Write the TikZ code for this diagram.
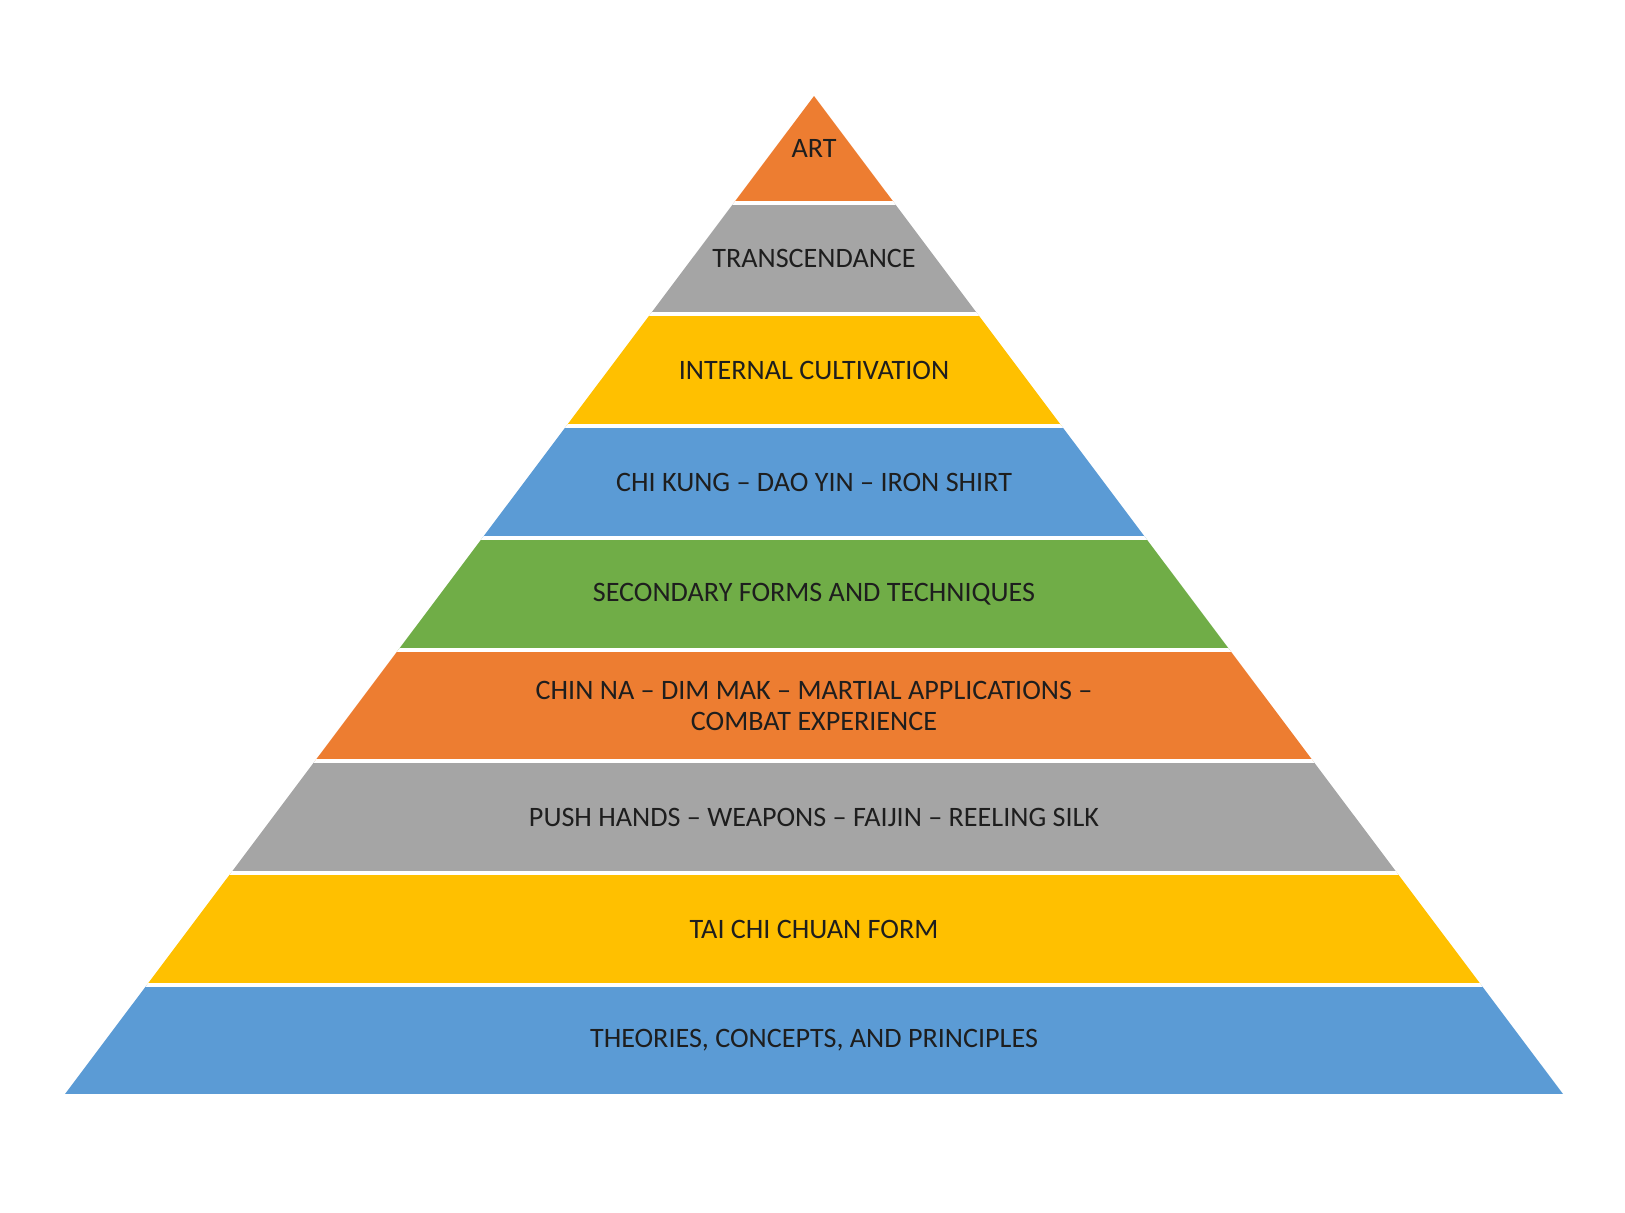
\documentclass[tikz,border=0pt]{standalone}
\usepackage{fontspec}
\setmainfont{Carlito}
\definecolor{tierorange}{HTML}{ED7D31}
\definecolor{tiergray}{HTML}{A5A5A5}
\definecolor{tieryellow}{HTML}{FFC000}
\definecolor{tierblue}{HTML}{5B9BD5}
\definecolor{tiergreen}{HTML}{70AD47}
\definecolor{tiertext}{HTML}{1E1E1E}
\begin{document}
\begin{tikzpicture}[x=0.01cm,y=-0.01cm]
\tikzstyle{label}=[text=tiertext,align=center,font=\fontsize{8}{8.8}\selectfont,inner sep=0pt]
\tikzstyle{gap}=[draw=white,line width=0.035cm]

\useasboundingbox (0,0) rectangle (1625,1212);

% corners of the pyramid
\coordinate (apex) at (814,96);
\coordinate (bl) at (65,1094);
\coordinate (br) at (1563,1094);

\begin{scope}
\clip (bl) -- (apex) -- (br) -- cycle;
\fill[tierorange] (0,90) rectangle (1625,203);
\fill[tiergray] (0,203) rectangle (1625,314);
\fill[tieryellow] (0,314) rectangle (1625,426);
\fill[tierblue] (0,426) rectangle (1625,538);
\fill[tiergreen] (0,538) rectangle (1625,650);
\fill[tierorange] (0,650) rectangle (1625,761);
\fill[tiergray] (0,761) rectangle (1625,873);
\fill[tieryellow] (0,873) rectangle (1625,985);
\fill[tierblue] (0,985) rectangle (1625,1094);
% white lines between the tiers
\path[gap] (0,203) -- (1625,203);
\path[gap] (0,314) -- (1625,314);
\path[gap] (0,426) -- (1625,426);
\path[gap] (0,538) -- (1625,538);
\path[gap] (0,650) -- (1625,650);
\path[gap] (0,761) -- (1625,761);
\path[gap] (0,873) -- (1625,873);
\path[gap] (0,985) -- (1625,985);
\end{scope}

\node[label] (art) at (814,148) {ART};
\node[label] (transc) at (814,258) {TRANSCENDANCE};
\node[label] (internal) at (814,370) {INTERNAL CULTIVATION};
\node[label] (chikung) at (814,482) {CHI KUNG -- DAO YIN -- IRON SHIRT};
\node[label] (secondary) at (814,594) {SECONDARY FORMS AND TECHNIQUES};
\node[label] (chinna) at (814,706) {CHIN NA -- DIM MAK -- MARTIAL APPLICATIONS --\\COMBAT EXPERIENCE};
\node[label] (push) at (814,817) {PUSH HANDS -- WEAPONS -- FAIJIN -- REELING SILK};
\node[label] (form) at (814,929) {TAI CHI CHUAN FORM};
\node[label] (theories) at (814,1040) {THEORIES, CONCEPTS, AND PRINCIPLES};
\end{tikzpicture}
\end{document}
